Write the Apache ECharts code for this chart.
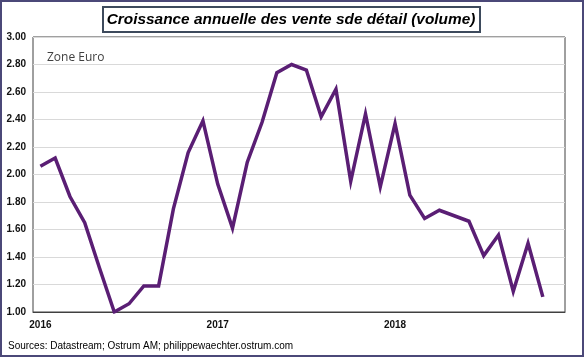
<!DOCTYPE html>
<html><head><meta charset="utf-8">
<script src="https://cdn.jsdelivr.net/npm/echarts@6/dist/echarts.min.js"></script>
<style>html,body{margin:0;padding:0;background:#fff}#c{width:584px;height:357px}</style>
</head><body><div id="c"></div>
<script>
const months = [
 '2016-01','2016-02','2016-03','2016-04','2016-05','2016-06','2016-07','2016-08','2016-09','2016-10','2016-11','2016-12',
 '2017-01','2017-02','2017-03','2017-04','2017-05','2017-06','2017-07','2017-08','2017-09','2017-10','2017-11','2017-12',
 '2018-01','2018-02','2018-03','2018-04','2018-05','2018-06','2018-07','2018-08','2018-09','2018-10','2018-11','2018-12'
];
const retailGrowth = [
 2.06, 2.12, 1.84, 1.65, 1.32, 1.00, 1.06, 1.19, 1.19, 1.75, 2.16, 2.39,
 1.93, 1.61, 2.09, 2.38, 2.74, 2.80, 2.76, 2.42, 2.62, 1.95, 2.44, 1.91,
 2.37, 1.85, 1.68, 1.74, 1.70, 1.66, 1.41, 1.56, 1.15, 1.50, 1.11
];
const yMin = 1.0, yMax = 3.0, yStep = 0.2;
const titleText = 'Croissance annuelle des vente sde détail (volume)';
const zoneLabel = 'Zone Euro';
const sourceText = 'Sources: Datastream; Ostrum AM; philippewaechter.ostrum.com';

const chart = echarts.init(document.getElementById('c'), null, {renderer:'canvas'});
chart.setOption({
  animation:false,
  backgroundColor:'#fff',
  graphic:[
    {type:'rect', shape:{x:1,y:1,width:582,height:355}, style:{fill:'none', stroke:'#4b4878', lineWidth:2}},
    {type:'rect', shape:{x:103,y:7,width:377,height:25}, style:{fill:'#fff', stroke:'#3d4a5c', lineWidth:2}},
    {type:'text', x:291, y:19.5, style:{text:titleText, font:'italic bold 15.4px "Liberation Sans", Arial, sans-serif', fill:'#000', align:'center', verticalAlign:'middle'}},
    {type:'text', x:47, y:58, style:{text:zoneLabel, font:'12px "Open Sans", sans-serif', fill:'#404040', align:'left', verticalAlign:'middle'}},
    {type:'text', x:8, y:346, style:{text:sourceText, font:'10px "Liberation Sans", Arial, sans-serif', fill:'#000', align:'left', verticalAlign:'middle'}}
  ],
  grid:{left:33, right:19, top:37, bottom:45, show:true, borderColor:'#404040', borderWidth:1, containLabel:false},
  xAxis:{
    type:'category', data:months, boundaryGap:true,
    axisLine:{show:true, lineStyle:{color:'#404040'}},
    axisTick:{show:false},
    splitLine:{show:false},
    axisLabel:{
      interval:0, margin:8,
      formatter:(v)=> v.endsWith('-01') ? v.slice(0,4) : '',
      fontFamily:'"Liberation Sans", Arial, sans-serif', fontWeight:'bold', fontSize:10, color:'#111'
    }
  },
  yAxis:{
    type:'value', min:yMin, max:yMax, interval:yStep,
    axisLine:{show:false}, axisTick:{show:false},
    splitLine:{show:true, lineStyle:{color:'#d9d9d9', width:1}},
    axisLabel:{
      margin:7, formatter:(v)=>v.toFixed(2),
      fontFamily:'"Liberation Sans", Arial, sans-serif', fontWeight:'bold', fontSize:10, color:'#111'
    }
  },
  series:[{
    type:'line', data:retailGrowth, showSymbol:false, symbol:'none',
    lineStyle:{color:'#5a1e74', width:3.5, join:'miter'}
  }]
});
</script></body></html>
